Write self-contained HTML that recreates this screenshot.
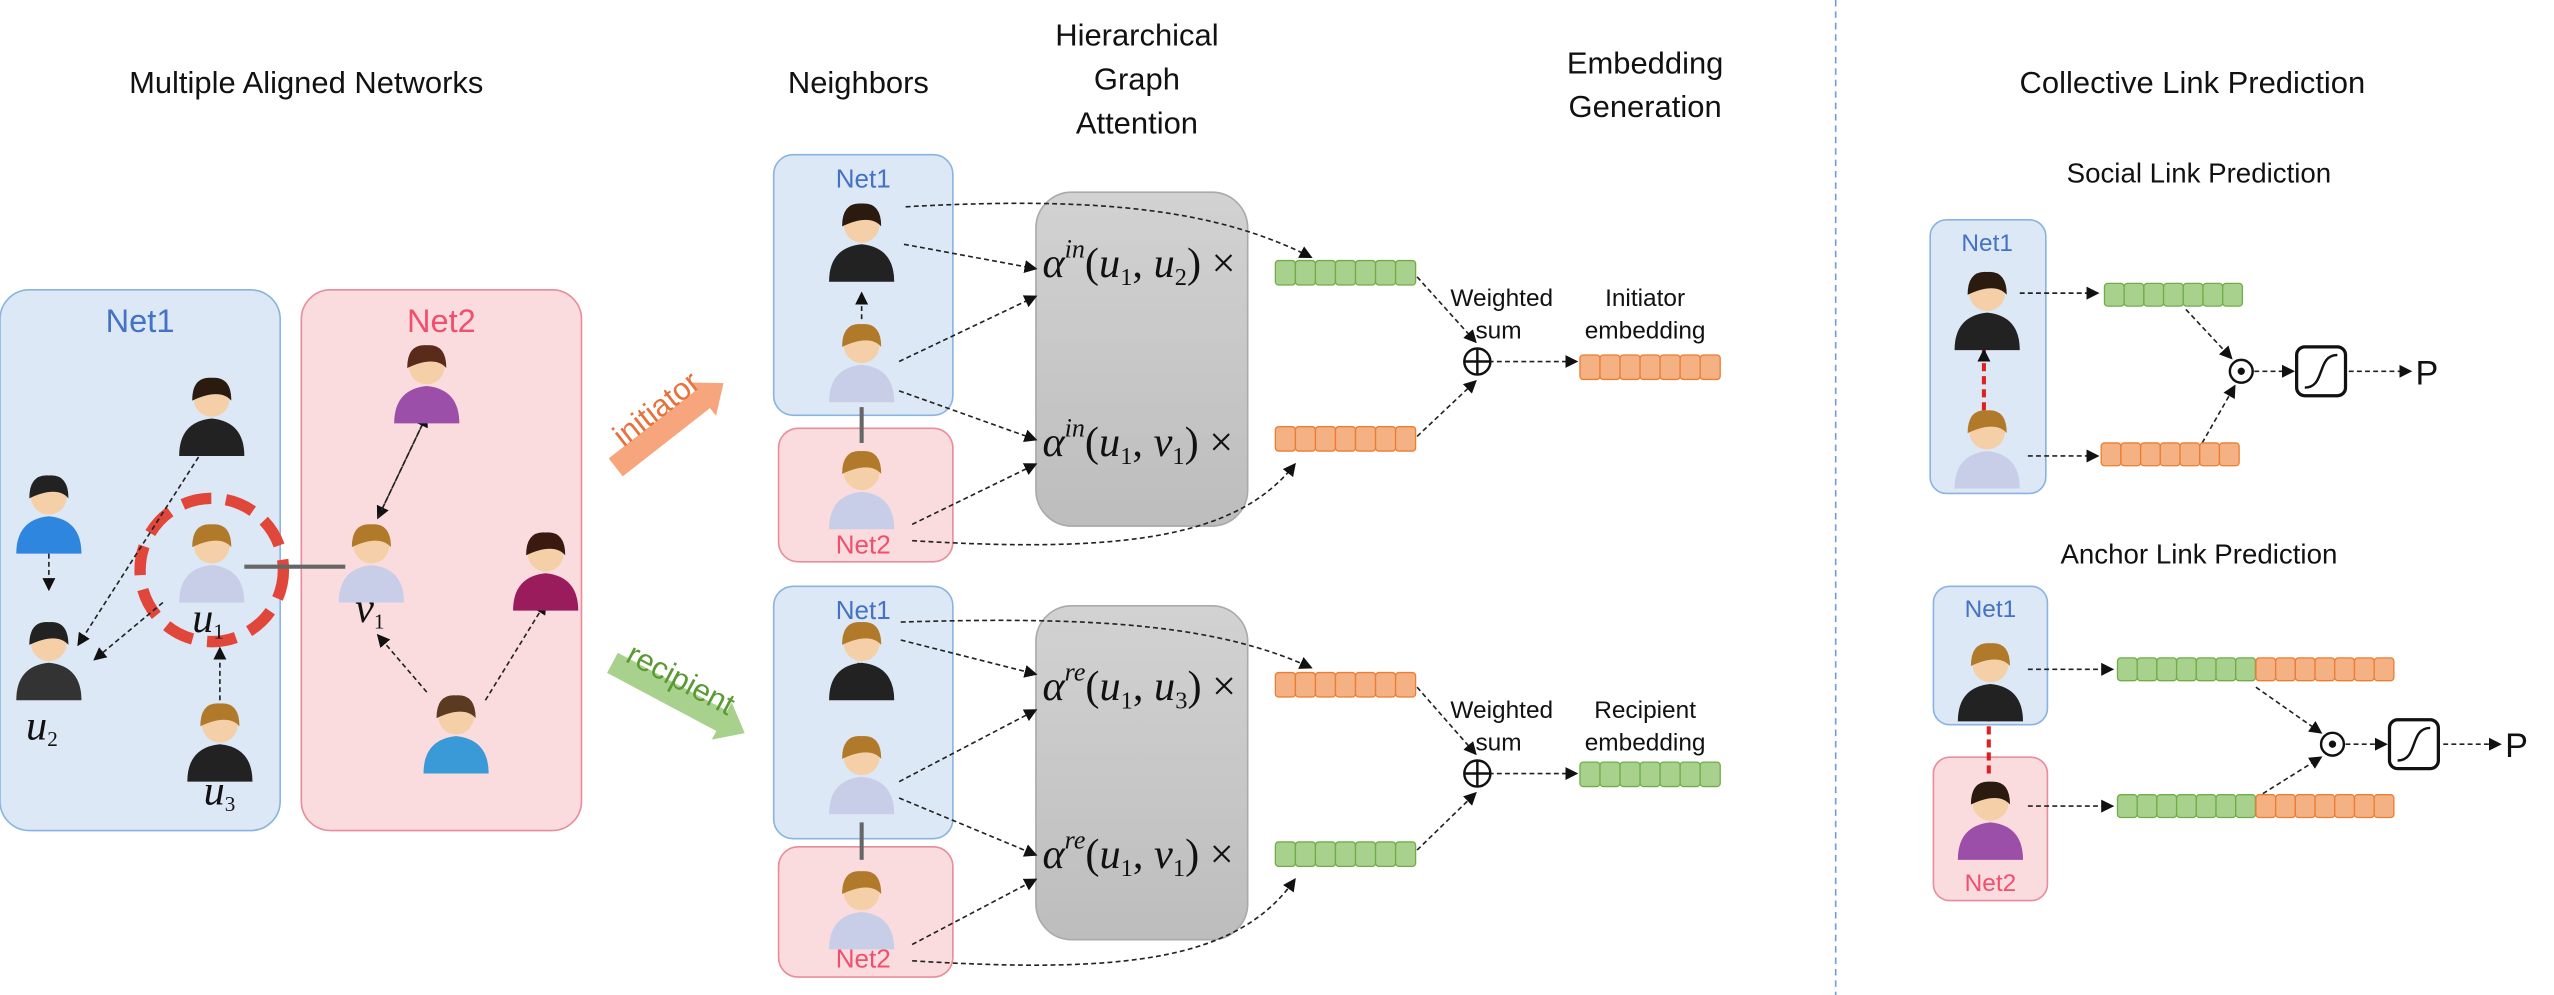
<!DOCTYPE html>
<html><head><meta charset="utf-8"><style>
html,body{margin:0;padding:0;background:#fff;}
svg{display:block;font-family:"Liberation Sans",sans-serif;}
.t{font-size:19px;fill:#111;text-anchor:middle;}
.m{font-family:"Liberation Serif",serif;font-style:italic;font-size:26px;fill:#111;}
.d{stroke:#222;stroke-width:1;stroke-dasharray:3,2;fill:none;marker-end:url(#ah);}
</style></head><body>
<svg id="fig" width="2554" height="995" viewBox="0 0 1568 611" preserveAspectRatio="none" xmlns="http://www.w3.org/2000/svg">
<defs>
<marker id="ah" markerWidth="8" markerHeight="8" refX="7" refY="4" orient="auto" markerUnits="userSpaceOnUse"><path d="M0,0 L8,4 L0,8z" fill="#111"/></marker>
<linearGradient id="gg" x1="0" y1="0" x2="0" y2="1"><stop offset="0" stop-color="#d2d2d2"/><stop offset="1" stop-color="#bdbdbd"/></linearGradient>
</defs>
<!-- titles -->
<text class="t" x="188" y="57">Multiple Aligned Networks</text>
<text class="t" x="527" y="57">Neighbors</text>
<text class="t" x="698" y="28">Hierarchical</text>
<text class="t" x="698" y="55">Graph</text>
<text class="t" x="698" y="82">Attention</text>
<text class="t" x="1010" y="45">Embedding</text>
<text class="t" x="1010" y="72">Generation</text>
<text class="t" x="1346" y="57">Collective Link Prediction</text>
<text class="t" x="1350" y="112" style="font-size:17px">Social Link Prediction</text>
<text class="t" x="1350" y="346" style="font-size:17px">Anchor Link Prediction</text>
<line x1="1127" y1="0" x2="1127" y2="611" stroke="#6f9fd8" stroke-dasharray="4,3"/>

<!-- left networks -->
<rect x="0" y="178" width="172" height="332" rx="18" fill="#dce8f5" stroke="#8ab4e0"/>
<rect x="185" y="178" width="172" height="332" rx="18" fill="#fadcdf" stroke="#e88d9a"/>
<text x="86" y="204" text-anchor="middle" font-size="20" fill="#4472c4">Net1</text>
<text x="271" y="204" text-anchor="middle" font-size="20" fill="#f0506e">Net2</text>
<circle cx="130" cy="350" r="44" fill="none" stroke="#e0463a" stroke-width="7" stroke-dasharray="18,9"/>
<line x1="150" y1="348" x2="212" y2="348" stroke="#666" stroke-width="2.5"/>
<path class="d" d="M30,330 L30,362"/><path class="d" d="M130,268 L48,396"/><path class="d" d="M100,370 L58,405"/><path class="d" d="M135,430 L135,398"/>
<path class="d" d="M262,255 L232,318"/><path class="d" d="M232,318 L262,255"/><path class="d" d="M262,425 L232,390"/><path class="d" d="M298,430 L335,370"/>
<text class="m" x="118" y="388" font-size="20">u<tspan font-size="13" dy="4" font-style="normal">1</tspan></text>
<text class="m" x="16" y="454" font-size="20">u<tspan font-size="13" dy="4" font-style="normal">2</tspan></text>
<text class="m" x="125" y="494" font-size="20">u<tspan font-size="13" dy="4" font-style="normal">3</tspan></text>
<text class="m" x="218" y="382" font-size="20">v<tspan font-size="13" dy="4" font-style="normal">1</tspan></text>

<!-- initiator / recipient arrows -->
<g transform="translate(378,287) rotate(-38)"><path d="M0,-7 L68,-7 L68,-13 L84,0 L68,13 L68,7 L0,7z" fill="#f6a57c"/></g>
<text x="370" y="262" font-size="19" fill="#e8703a" transform="rotate(-38 395 250)">initiator</text>
<g transform="translate(376,407) rotate(28)"><path d="M0,-7 L76,-7 L76,-13 L92,0 L76,13 L76,7 L0,7z" fill="#a9d18e"/></g>
<text x="378" y="413" font-size="19" fill="#5a9a32" transform="rotate(28 395 420)">recipient</text>

<!-- middle boxes -->
<rect x="475" y="95" width="110" height="160" rx="12" fill="#dce8f5" stroke="#8ab4e0"/>
<rect x="478" y="263" width="107" height="82" rx="12" fill="#fadcdf" stroke="#e88d9a"/>
<rect x="475" y="360" width="110" height="155" rx="12" fill="#dce8f5" stroke="#8ab4e0"/>
<rect x="478" y="520" width="107" height="80" rx="12" fill="#fadcdf" stroke="#e88d9a"/>
<text x="530" y="115" text-anchor="middle" font-size="16" fill="#4472c4">Net1</text>
<text x="530" y="340" text-anchor="middle" font-size="16" fill="#f0506e">Net2</text>
<text x="530" y="380" text-anchor="middle" font-size="16" fill="#4472c4">Net1</text>
<text x="530" y="594" text-anchor="middle" font-size="16" fill="#f0506e">Net2</text>
<line x1="529" y1="250" x2="529" y2="272" stroke="#666" stroke-width="2.5"/>
<line x1="529" y1="505" x2="529" y2="528" stroke="#666" stroke-width="2.5"/>
<path class="d" d="M529,196 L529,180"/><path class="d" d="M527,407 L527,422"/>
<rect x="636" y="118" width="130" height="205" rx="22" fill="url(#gg)" stroke="#aaa"/>
<rect x="636" y="372" width="130" height="205" rx="22" fill="url(#gg)" stroke="#aaa"/>
<text class="m" x="640" y="170">α<tspan font-size="16" dy="-12">in</tspan><tspan dy="12" font-style="normal">(</tspan>u<tspan font-size="15" dy="5" font-style="normal">1</tspan><tspan dy="-5" font-style="normal">, </tspan>u<tspan font-size="15" dy="5" font-style="normal">2</tspan><tspan dy="-5" font-style="normal">) ×</tspan></text>
<text class="m" x="640" y="280">α<tspan font-size="16" dy="-12">in</tspan><tspan dy="12" font-style="normal">(</tspan>u<tspan font-size="15" dy="5" font-style="normal">1</tspan><tspan dy="-5" font-style="normal">, </tspan>v<tspan font-size="15" dy="5" font-style="normal">1</tspan><tspan dy="-5" font-style="normal">) ×</tspan></text>
<text class="m" x="640" y="430">α<tspan font-size="16" dy="-12">re</tspan><tspan dy="12" font-style="normal">(</tspan>u<tspan font-size="15" dy="5" font-style="normal">1</tspan><tspan dy="-5" font-style="normal">, </tspan>u<tspan font-size="15" dy="5" font-style="normal">3</tspan><tspan dy="-5" font-style="normal">) ×</tspan></text>
<text class="m" x="640" y="533">α<tspan font-size="16" dy="-12">re</tspan><tspan dy="12" font-style="normal">(</tspan>u<tspan font-size="15" dy="5" font-style="normal">1</tspan><tspan dy="-5" font-style="normal">, </tspan>v<tspan font-size="15" dy="5" font-style="normal">1</tspan><tspan dy="-5" font-style="normal">) ×</tspan></text>
<!-- dashed connections middle -->
<path class="d" d="M556,127 C680,120 750,130 805,158"/>
<path class="d" d="M555,150 L636,165"/><path class="d" d="M552,222 L636,182"/>
<path class="d" d="M552,240 L636,270"/><path class="d" d="M560,322 L636,285"/>
<path class="d" d="M560,332 C690,340 760,330 795,285"/>
<path class="d" d="M870,170 L906,210"/><path class="d" d="M870,268 L906,234"/>
<path class="d" d="M914,222 L968,222"/>
<path class="d" d="M553,382 C680,378 750,385 805,410"/>
<path class="d" d="M553,393 L636,414"/><path class="d" d="M552,480 L636,436"/>
<path class="d" d="M552,490 L636,525"/><path class="d" d="M560,580 L636,540"/>
<path class="d" d="M560,590 C690,598 760,590 795,540"/>
<path class="d" d="M870,422 L906,463"/><path class="d" d="M870,522 L906,487"/>
<path class="d" d="M914,475 L968,475"/>
<g font-size="15" fill="#111" text-anchor="middle">
<text x="922" y="188">Weighted</text><text x="920" y="208">sum</text>
<text x="1010" y="188">Initiator</text><text x="1010" y="208">embedding</text>
<text x="922" y="441">Weighted</text><text x="920" y="461">sum</text>
<text x="1010" y="441">Recipient</text><text x="1010" y="461">embedding</text>
</g>
<g fill="none" stroke="#111" stroke-width="1.5"><circle cx="907" cy="222" r="8"/><path d="M899,222h16M907,214v16"/><circle cx="907" cy="475" r="8"/><path d="M899,475h16M907,467v16"/></g>

<!-- right panels -->
<rect x="1185" y="135" width="71" height="168" rx="10" fill="#dce8f5" stroke="#8ab4e0"/>
<text x="1220" y="154" text-anchor="middle" font-size="15" fill="#4472c4">Net1</text>
<path d="M1218,268 L1218,215" stroke="#e02020" stroke-width="2.5" stroke-dasharray="5,3" marker-end="url(#ah)"/>
<path class="d" d="M1240,180 L1288,180"/><path class="d" d="M1245,280 L1288,280"/>
<path class="d" d="M1342,190 L1370,220"/><path class="d" d="M1352,272 L1372,237"/>
<path class="d" d="M1384,228 L1408,228"/><path class="d" d="M1442,228 L1480,228"/>
<rect x="1187" y="360" width="70" height="85" rx="10" fill="#dce8f5" stroke="#8ab4e0"/>
<rect x="1187" y="465" width="70" height="88" rx="10" fill="#fadcdf" stroke="#e88d9a"/>
<text x="1222" y="379" text-anchor="middle" font-size="15" fill="#4472c4">Net1</text>
<text x="1222" y="547" text-anchor="middle" font-size="15" fill="#f0506e">Net2</text>
<path d="M1221,430 L1221,475" stroke="#e02020" stroke-width="2.5" stroke-dasharray="5,3"/>
<path class="d" d="M1245,411 L1297,411"/><path class="d" d="M1245,495 L1297,495"/>
<path class="d" d="M1385,422 L1425,450"/><path class="d" d="M1385,490 L1425,465"/>
<path class="d" d="M1440,457 L1465,457"/><path class="d" d="M1500,457 L1535,457"/>
<g fill="none" stroke="#111" stroke-width="1.5"><circle cx="1376" cy="228" r="7"/><circle cx="1376" cy="228" r="1.5" fill="#111"/><circle cx="1432" cy="457" r="7"/><circle cx="1432" cy="457" r="1.5" fill="#111"/>
<rect x="1410" y="213" width="30" height="30" rx="5" stroke-width="2"/><path d="M1415,238 C1428,238 1422,218 1435,218"/>
<rect x="1467" y="442" width="30" height="30" rx="5" stroke-width="2"/><path d="M1472,467 C1485,467 1479,447 1492,447"/></g>
<text x="1483" y="236" font-size="21" fill="#111">P</text>
<text x="1538" y="465" font-size="21" fill="#111">P</text>
<g id="dyn"></g>
</svg>
<script>
const NS='http://www.w3.org/2000/svg';
const dyn=document.getElementById('dyn');
const G='#a9d18e',GS='#70ad47',O='#f4b183',OS='#ed7d31';
const bars=[[783,160,7,'g'],[783,262,7,'o'],[783,413,7,'o'],[783,517,7,'g'],[970,218,7,'o'],[970,468,7,'g'],
 [1292,174,7,'g'],[1290,272,7,'o'],[1300,404,7,'g'],[1385,404,7,'o'],[1300,488,7,'g'],[1385,488,7,'o']];
bars.forEach(b=>{
  const g=document.createElementNS(NS,'g');
  
  
  const cw=b[0]>1280?12.1:12.3;
  for(let i=0;i<b[2];i++){
    const r=document.createElementNS(NS,'rect');
    r.setAttribute('x',b[0]+i*cw);r.setAttribute('y',b[1]);r.setAttribute('width',cw);r.setAttribute('height',b[0]>1280?14:15);r.setAttribute('rx',2);
    r.setAttribute('fill',b[3]=='g'?G:O);r.setAttribute('stroke',b[3]=='g'?GS:OS);r.setAttribute('stroke-width',0.8);
    g.appendChild(r);
  }
  dyn.appendChild(g);
});
// people: x,y(center of head), shirt color, hair color, scale
const people=[[30,305,'#2e86de','#222',1],[130,245,'#222','#2a1a10',1],[130,335,'#c8cde8','#b07a2a',1],[30,395,'#333','#222',1],[135,445,'#222','#b07a2a',1],
 [262,225,'#9b4fa8','#5a2a1a',1],[228,335,'#c8cde8','#b07a2a',1],[335,340,'#9b1c5c','#3a1a10',1],[280,440,'#3a9ad8','#5a3a20',1],
 [529,138,'#222','#2a1a10',1],[529,212,'#c8cde8','#b07a2a',1],[529,290,'#c8cde8','#b07a2a',1],
 [529,395,'#222','#b07a2a',1],[529,465,'#c8cde8','#b07a2a',1],[529,548,'#c8cde8','#b07a2a',1],
 [1220,180,'#222','#2a1a10',1],[1220,265,'#c8cde8','#b07a2a',1],[1222,408,'#222','#b07a2a',1],[1222,493,'#9b4fa8','#2a1a10',1]];
people.forEach(p=>{
  const g=document.createElementNS(NS,'g');
  
  
  const [x,y,sc,hc]=p;
  const body=document.createElementNS(NS,'path');
  body.setAttribute('d',`M${x-20},${y+35} Q${x-20},${y+14} ${x},${y+12} Q${x+20},${y+14} ${x+20},${y+35}z`);
  body.setAttribute('fill',sc);
  const head=document.createElementNS(NS,'circle');
  head.setAttribute('cx',x);head.setAttribute('cy',y);head.setAttribute('r',11);head.setAttribute('fill','#f5cfa8');
  const hair=document.createElementNS(NS,'path');
  hair.setAttribute('d',`M${x-12},${y+1} Q${x-12},${y-14} ${x},${y-13} Q${x+12},${y-14} ${x+12},${y+1} Q${x+5},${y-7} ${x-12},${y+1}z`);
  hair.setAttribute('fill',hc);
  g.appendChild(body);g.appendChild(head);g.appendChild(hair);
  dyn.appendChild(g);
});
</script>
</body></html>
